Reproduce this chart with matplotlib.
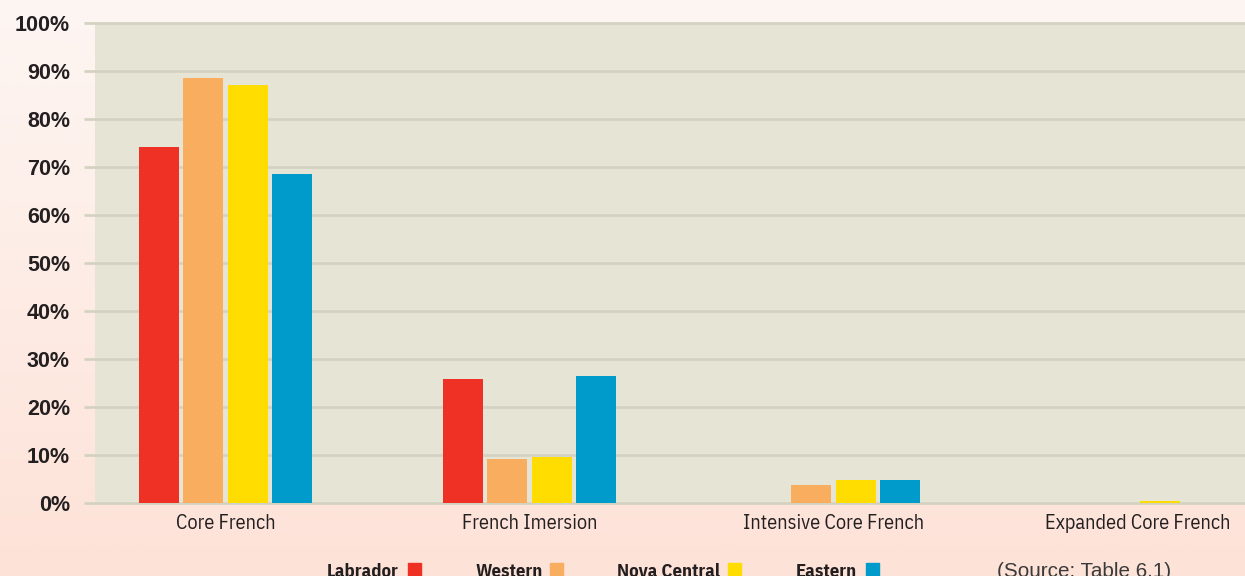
import numpy as np
import matplotlib
matplotlib.use("Agg")
import matplotlib.pyplot as plt
from matplotlib.patches import Rectangle

# data (percent of students)
programs = ["Core French", "French Imersion", "Intensive Core French", "Expanded Core French"]
regions = ["Labrador", "Western", "Nova Central", "Eastern"]
labrador = [74.2, 25.8, 0.0, 0.0]
western = [88.5, 9.2, 3.7, 0.0]
nova_central = [87.1, 9.5, 4.8, 0.35]
eastern = [68.5, 26.5, 4.8, 0.0]
colors = ["#ee3124", "#f9ae5f", "#ffdd00", "#009bcb"]
yticks = [0, 10, 20, 30, 40, 50, 60, 70, 80, 90, 100]
source = "(Source: Table 6.1)"

SANS = ["Liberation Sans", "DejaVu Sans"]
CONDENSED = ["IBM Plex Sans Condensed", "Liberation Sans", "DejaVu Sans"]
INK = "#231f20"

W, H = 1245, 576
fig = plt.figure(figsize=(W / 100, H / 100), dpi=100)

# gradient background
bg = fig.add_axes([0, 0, 1, 1], zorder=-10)
grad = np.linspace(0, 1, 256).reshape(-1, 1)
top = np.array([0xfd, 0xf6, 0xf3]) / 255
bot = np.array([0xfd, 0xe2, 0xd7]) / 255
img = top + (bot - top) * grad[:, :, None]
bg.imshow(img, aspect="auto", extent=[0, 1, 0, 1])
bg.axis("off")

# plot area in pixels: x 95..1245, y 23..503 (from top)
left, right, ytop, ybot = 95, 1245, 23, 503
ax = fig.add_axes([left / W, (H - ybot) / H, (right - left) / W, (ybot - ytop) / H])
ax.set_facecolor("#e6e4d4")

step = 304.0
center0 = 225.5
x = np.arange(len(programs))
bw = 40 / step
off = 44.5 / step
series = [labrador, western, nova_central, eastern]
for i, (vals, c) in enumerate(zip(series, colors)):
    ax.bar(x + (i - 1.5) * off, vals, width=bw, color=c, zorder=3, linewidth=0)

for t in yticks:
    ax.plot([-11 / (right - left), 1], [t, t], transform=ax.get_yaxis_transform(),
            color="#d3d1c0", lw=1.9, clip_on=False, zorder=2, solid_capstyle="butt")

ax.set_xlim((left - center0) / step, (right - center0) / step)
ax.set_ylim(0, 100)
ax.set_yticks(yticks)
ax.set_yticklabels([f"{t}%" for t in yticks], fontsize=15.5, fontweight="bold",
                   family=SANS, color=INK)
ax.set_xticks(x)
ax.set_xticklabels(programs, fontsize=14.6, family=CONDENSED, color=INK)
ax.tick_params(axis="y", length=0, pad=18)
ax.tick_params(axis="x", length=0, pad=8)
for s in ax.spines.values():
    s.set_visible(False)

# legend along the bottom
leg_text_x = [327, 475, 617, 796]
leg_box_x = [408, 550, 728, 866]
base_y = (H - 577) / H
for name, c, tx, bx in zip(regions, colors, leg_text_x, leg_box_x):
    fig.text(tx / W, base_y, name, fontsize=13.4, fontweight="bold",
             family=CONDENSED, color=INK, va="baseline")
    fig.patches.append(Rectangle((bx / W, base_y), 12.5 / W, 14 / H, transform=fig.transFigure,
                                 color=c, zorder=5))
fig.text(997 / W, base_y, source, fontsize=14.9, family=SANS,
         color="#3a3a3a", va="baseline")

fig.savefig("out.png", dpi=100)
